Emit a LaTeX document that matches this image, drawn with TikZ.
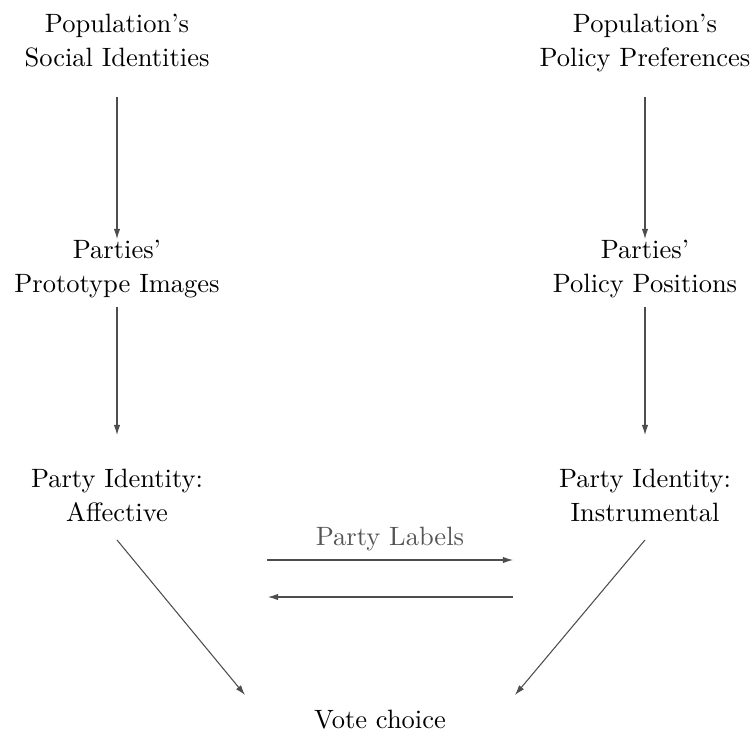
\documentclass[tikz,border=0pt]{standalone}
\usetikzlibrary{arrows.meta}
\definecolor{arrgray}{HTML}{4D4D4D}
\definecolor{labgray}{HTML}{555555}
\begin{document}
\begin{tikzpicture}[x=0.3774pt,y=-0.3774pt,
  txt/.style={inner sep=0pt,outer sep=0pt,anchor=base,font=\normalsize},
  arr/.style={draw=arrgray,line width=0.4pt,-{Latex[length=3.8pt,width=2.4pt]}}]
\useasboundingbox (0,0) rectangle (750,733);
\def\arraystretch{1.1}
\newcommand{\twol}[2]{\begin{tabular}[t]{@{}c@{}}#1\\#2\end{tabular}}
\node[txt] (psi) at (117,32) {\twol{Population's}{Social Identities}};
\node[txt] (ppp) at (645,32) {\twol{Population's}{Policy Preferences}};
\node[txt] (ppi) at (117,258) {\twol{Parties'}{Prototype Images}};
\node[txt] (ppo) at (645,258) {\twol{Parties'}{Policy Positions}};
\node[txt] (aff) at (117,487) {\twol{Party Identity:}{Affective}};
\node[txt] (ins) at (645,487) {\twol{Party Identity:}{Instrumental}};
\node[txt] (vote) at (380,728) {\begin{tabular}[t]{@{}c@{}}Vote choice\end{tabular}};
\node[txt,text=labgray] (lab) at (390,545) {Party Labels};
\coordinate (h1) at (267,560);
\coordinate (h2) at (513,560);
\coordinate (h3) at (513,597);
\coordinate (h4) at (268,597);
\draw[arr,shorten <=7.36pt,shorten >=-2.08pt] (psi.south) -- (ppi.north);
\draw[arr,shorten <=7.36pt,shorten >=-2.08pt] (ppp.south) -- (ppo.north);
\draw[arr,shorten <=1.32pt,shorten >=10.38pt] (ppi.south) -- (aff.north);
\draw[arr,shorten <=1.32pt,shorten >=10.38pt] (ppo.south) -- (ins.north);
\draw[arr] ([yshift=-2.83pt]aff.south) -- ([xshift=-50.95pt,yshift=3.21pt]vote.north);
\draw[arr] ([yshift=-2.83pt]ins.south) -- ([xshift=50.95pt,yshift=3.21pt]vote.north);
\draw[arr] (h1) -- (h2);
\draw[arr] (h3) -- (h4);
\end{tikzpicture}
\end{document}
